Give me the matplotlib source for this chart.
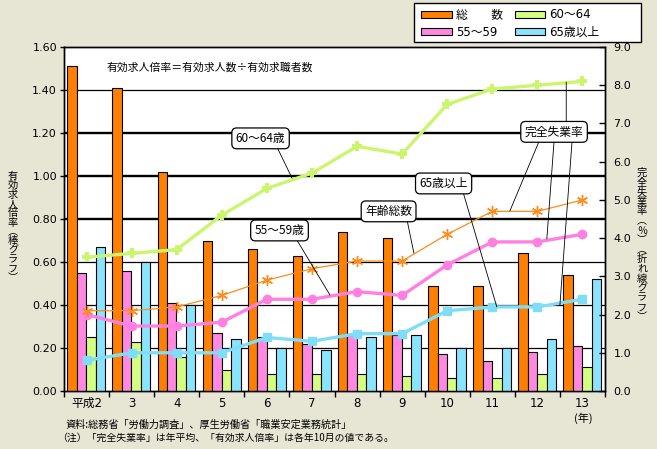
import matplotlib
matplotlib.use('Agg')
from matplotlib import pyplot as plt
from matplotlib.patches import Patch, Rectangle
import numpy as np

plt.rcParams['font.family'] = ['DejaVu Sans', 'Noto Sans CJK JP']
JP = ['Noto Sans CJK JP', 'DejaVu Sans']

years = ['平成2', '3', '4', '5', '6', '7', '8', '9', '10', '11', '12', '13']

# 有効求人倍率 (bars, left axis)
ratio_total = [1.51, 1.41, 1.02, 0.70, 0.66, 0.63, 0.74, 0.71, 0.49, 0.49, 0.64, 0.54]
ratio_55_59 = [0.55, 0.56, 0.41, 0.27, 0.25, 0.22, 0.26, 0.26, 0.17, 0.14, 0.18, 0.21]
ratio_60_64 = [0.25, 0.23, 0.16, 0.10, 0.08, 0.08, 0.08, 0.07, 0.06, 0.06, 0.08, 0.11]
ratio_65 = [0.67, 0.60, 0.40, 0.24, 0.20, 0.19, 0.25, 0.26, 0.20, 0.20, 0.24, 0.52]

# 完全失業率 (lines, right axis)
unemp_total = [2.1, 2.1, 2.2, 2.5, 2.9, 3.2, 3.4, 3.4, 4.1, 4.7, 4.7, 5.0]
unemp_55_59 = [2.0, 1.7, 1.7, 1.8, 2.4, 2.4, 2.6, 2.5, 3.3, 3.9, 3.9, 4.1]
unemp_60_64 = [3.5, 3.6, 3.7, 4.6, 5.3, 5.7, 6.4, 6.2, 7.5, 7.9, 8.0, 8.1]
unemp_65 = [0.8, 1.0, 1.0, 1.0, 1.4, 1.3, 1.5, 1.5, 2.1, 2.2, 2.2, 2.4]

legend_labels = ['総　　数', '55～59', '60～64', '65歳以上']
bar_colors = ['#FF8000', '#FF88E0', '#D4FF80', '#88E4FF']

W, H = 657, 449
fig = plt.figure(figsize=(6.57, 4.49), dpi=100)
fig.patch.set_facecolor('#E7E5D3')

ax = fig.add_axes([64 / W, 1 - 391 / H, (605 - 64) / W, (391 - 47) / H])
ax.set_facecolor('white')
ax2 = ax.twinx()

x = np.arange(len(years))
bw = 0.21
series = [ratio_total, ratio_55_59, ratio_60_64, ratio_65]
for k, vals in enumerate(series):
    ax.bar(x + (k - 1.5) * bw - 0.005, vals, bw, color=bar_colors[k],
           edgecolor='black', linewidth=0.8, zorder=3)

for g in np.arange(0.2, 1.5, 0.2):
    lw = 1.7 if 0.7 < g < 1.3 else 0.9
    ax.axhline(g, color='black', linewidth=lw, zorder=1)

ax.set_xlim(-0.5, len(years) - 0.5)
ax.set_ylim(0, 1.6)
ax.set_yticks(np.arange(0, 1.61, 0.2))
ax.set_yticklabels(['%.2f' % v for v in np.arange(0, 1.61, 0.2)], fontsize=8)
ax.tick_params(axis='y', direction='out', length=3, width=1, pad=2)
ax.set_xticks(x)
ax.set_xticklabels(years, fontsize=8.5)
ax.tick_params(axis='x', which='major', length=0, pad=4)
ax.set_xticks(np.arange(-0.5, len(years), 1), minor=True)
ax.tick_params(axis='x', which='minor', length=4, width=1, direction='out')

ax2.set_ylim(0, 9)
ax2.set_yticks(np.arange(0, 9.1, 1))
ax2.set_yticklabels(['%.1f' % v for v in np.arange(0, 9.1, 1)], fontsize=8)
ax2.tick_params(axis='y', direction='in', length=4, width=1, pad=6)

for a in (ax, ax2):
    for s in a.spines.values():
        s.set_linewidth(1.0)

ax2.plot(x, unemp_60_64, color='#CCF56E', linewidth=2.4, marker='P',
         markersize=7, markeredgewidth=0, zorder=5)
ax2.plot(x, unemp_total, color='#FF8C1A', linewidth=0.9, marker=(6, 2, 0),
         markersize=8, markeredgewidth=1.0, zorder=6)
ax2.plot(x, unemp_55_59, color='#FF80E0', linewidth=2.4, marker='o',
         markersize=6, zorder=5)
ax2.plot(x, unemp_65, color='#80DDF8', linewidth=2.4, marker='s',
         markersize=6, zorder=5)

# leader lines
leaders = [
    ((4.225, 6.38), (4.558, 5.57)),
    ((4.65, 3.98), (5.40, 2.51)),
    ((7.11, 4.47), (7.26, 3.61)),
    ((8.35, 5.21), (9.10, 2.20)),
    ((10.04, 6.54), (9.39, 4.71)),
    ((10.37, 6.54), (10.21, 3.98)),
    ((10.77, 6.54), (10.50, 2.25)),
    ((10.64, 7.01), (10.64, 8.08)),
]
for start, end in leaders:
    ax2.annotate('', xy=end, xytext=start,
                 arrowprops=dict(arrowstyle='-', color='black', lw=0.6,
                                 shrinkA=0, shrinkB=0), zorder=7)

boxes = [
    ('60～64歳', 3.86, 6.61),
    ('55～59歳', 4.28, 4.20),
    ('年齢総数', 6.70, 4.70),
    ('65歳以上', 7.92, 5.43),
    ('完全失業率', 10.37, 6.78),
]
for label, bx, by in boxes:
    ax2.text(bx, by, label, ha='center', va='center', fontsize=8.5, family=JP,
             zorder=8,
             bbox=dict(boxstyle='round,pad=0.33,rounding_size=0.4',
                       fc='white', ec='black', lw=0.9))

fig.text(107 / W, 1 - 67 / H, '有効求人倍率＝有効求人数÷有効求職者数',
         fontsize=7.8, family=JP, va='center', ha='left')

# vertical axis titles
left_title = '有効求人倍率︵棒グラフ︶'
for i, ch in enumerate(left_title):
    fig.text(13 / W, 1 - (176 + i * 9.3) / H, ch, fontsize=7.3, family=JP,
             ha='center', va='center')
right_title = '完全失業率︵％︶︵折れ線グラフ︶'
for i, ch in enumerate(right_title):
    fig.text(642 / W, 1 - (173 + i * 9.6) / H, ch, fontsize=7.3, family=JP,
             ha='center', va='center')

fig.text(583 / W, 1 - 418 / H, '(年)', fontsize=8, family=JP,
         ha='center', va='center')
fig.text(65 / W, 1 - 425 / H, '資料:総務省「労働力調査」、厚生労働省「職業安定業務統計」',
         fontsize=7.3, family=JP, ha='left', va='center')
fig.text(57 / W, 1 - 438 / H, '（注）「完全失業率」は年平均、「有効求人倍率」は各年10月の値である。',
         fontsize=7.1, family=JP, ha='left', va='center')

# legend box (wider than its content, as in the original)
fig.patches.append(Rectangle((414 / W, 1 - 42 / H), 227 / W, 39 / H,
                             transform=fig.transFigure, facecolor='white',
                             edgecolor='black', linewidth=1.0, zorder=1))
handles = [Patch(facecolor=c, edgecolor='black', linewidth=0.8) for c in bar_colors]
leg = fig.legend(handles, legend_labels, ncol=2, loc='upper left',
                 bbox_to_anchor=(421 / W, 1 - 8.5 / H),
                 frameon=False, handlelength=2.6, handleheight=0.6,
                 borderpad=0.0, borderaxespad=0.0,
                 labelspacing=0.35, columnspacing=1.0, handletextpad=0.35,
                 prop={'family': ['DejaVu Sans', 'Noto Sans CJK JP'], 'size': 8.5})

fig.savefig('out.png', dpi=100, facecolor=fig.get_facecolor())
